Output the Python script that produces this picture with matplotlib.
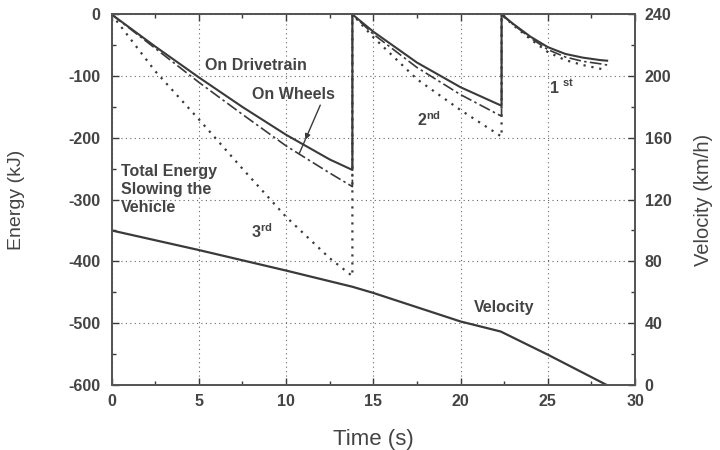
import numpy as np
import matplotlib.pyplot as plt
from matplotlib.ticker import MultipleLocator

plt.rcParams['font.family'] = ['Liberation Sans', 'DejaVu Sans']
plt.rcParams['mathtext.fontset'] = 'custom'
plt.rcParams['mathtext.rm'] = 'Liberation Sans:bold'
plt.rcParams['axes.unicode_minus'] = False

# time points per gear (s)
t_3rd = [0, 2.5, 5, 7.5, 10, 12.5, 13.8]
t_2nd = [13.8, 15, 17.5, 20, 22.35]
t_1st = [22.35, 23, 24, 25, 26, 27, 28, 28.4]

# energy on the drivetrain (kJ)
drivetrain_3rd = [0, -52, -102, -150, -195, -235, -252]
drivetrain_2nd = [0, -28, -78, -118, -148]
drivetrain_1st = [0, -15, -36, -53, -64, -70, -74, -75]

# energy on the wheels (kJ)
wheels_3rd = [0, -55, -110, -162, -213, -257, -279]
wheels_2nd = [0, -32, -86, -130, -165]
wheels_1st = [0, -16, -38, -57, -69, -76, -80, -82]

# total energy slowing the vehicle (kJ)
total_3rd = [0, -92, -170, -250, -328, -395, -424]
total_2nd = [0, -37, -105, -155, -198]
total_1st = [0, -17, -40, -61, -74, -82, -88, -90]

# vehicle speed (km/h)
t_vel = [0, 5, 10, 13.8, 15, 20, 22.3, 25, 28.35]
velocity = [100, 87.3, 74, 63.5, 59.5, 41, 34.5, 19.5, 0]

t_all = t_3rd + t_2nd + t_1st
drivetrain = drivetrain_3rd + drivetrain_2nd + drivetrain_1st
wheels = wheels_3rd + wheels_2nd + wheels_1st
total = total_3rd + total_2nd + total_1st

ink = '#3a3a3a'
txt = '#444444'

fig = plt.figure(figsize=(7.2, 4.5), dpi=100)
ax = fig.add_axes([0.155, 0.145, 0.727, 0.823])
ax2 = ax.twinx()

ax.plot(t_all, total, color=ink, lw=1.6, ls=(0, (1, 2.6)))
ax.plot(t_all, wheels, color=ink, lw=1.2, ls=(0, (7, 2, 1.5, 2)))
ax.plot(t_all, drivetrain, color=ink, lw=1.5)
ax2.plot(t_vel, velocity, color=ink, lw=1.6)

ax.set_xlim(0, 30)
ax.set_ylim(-600, 0)
ax2.set_ylim(0, 240)

ax.xaxis.set_major_locator(MultipleLocator(5))
ax.xaxis.set_minor_locator(MultipleLocator(2.5))
ax.yaxis.set_major_locator(MultipleLocator(100))
ax.yaxis.set_minor_locator(MultipleLocator(50))
ax2.yaxis.set_major_locator(MultipleLocator(40))
ax2.yaxis.set_minor_locator(MultipleLocator(20))

ax.grid(True, which='major', color='#666666', lw=0.8, ls=(0, (1, 3)))

for a in (ax, ax2):
    a.tick_params(which='both', direction='in', colors=ink, labelcolor=txt,
                  labelsize=11.5)
    a.tick_params(which='major', length=5, width=1)
    a.tick_params(which='minor', length=3, width=1)
    for s in a.spines.values():
        s.set_color('#555555')
        s.set_linewidth(1.3)
ax.tick_params(which='both', top=True, right=False)
ax.tick_params(axis='x', pad=7)
ax.tick_params(axis='y', pad=8)
ax2.tick_params(axis='y', pad=7)
for lab in ax.get_xticklabels() + ax.get_yticklabels() + ax2.get_yticklabels():
    lab.set_fontweight('bold')

ax.set_xlabel('Time (s)', fontsize=16, color=txt, labelpad=14)
ax.set_ylabel('Energy (kJ)', fontsize=14, color=txt, labelpad=31)
ax2.set_ylabel('Velocity (km/h)', fontsize=14.5, color=txt, labelpad=16)

lbl = dict(color=txt, fontsize=11.5, fontweight='bold')
ax.text(5.35, -82, 'On Drivetrain', va='center', ha='left', **lbl)
ax.text(8.05, -130, 'On Wheels', va='center', ha='left', **lbl)
ax.text(0.55, -243, 'Total Energy\nSlowing the\nVehicle', va='top', ha='left',
        linespacing=1.25, **lbl)
ax.text(8.6, -352, '3$^{\\mathrm{rd}}$', va='center', ha='center', **lbl)
ax.text(18.2, -171, '2$^{\\mathrm{nd}}$', va='center', ha='center', **lbl)
ax.text(25.8, -118, '1 $^{\\mathrm{st}}$', va='center', ha='center', **lbl)
ax.text(22.5, -475, 'Velocity', va='center', ha='center', **lbl)

# pointer from the "On Wheels" label down to the curves
ax.annotate('', xy=(11.1, -203), xytext=(11.96, -147),
            arrowprops=dict(arrowstyle='-|>', color=ink, lw=1.0,
                            mutation_scale=8, shrinkA=0, shrinkB=0))
ax.plot([11.1, 10.76], [-203, -225], color=ink, lw=1.0)

fig.savefig('out.png', dpi=100)
